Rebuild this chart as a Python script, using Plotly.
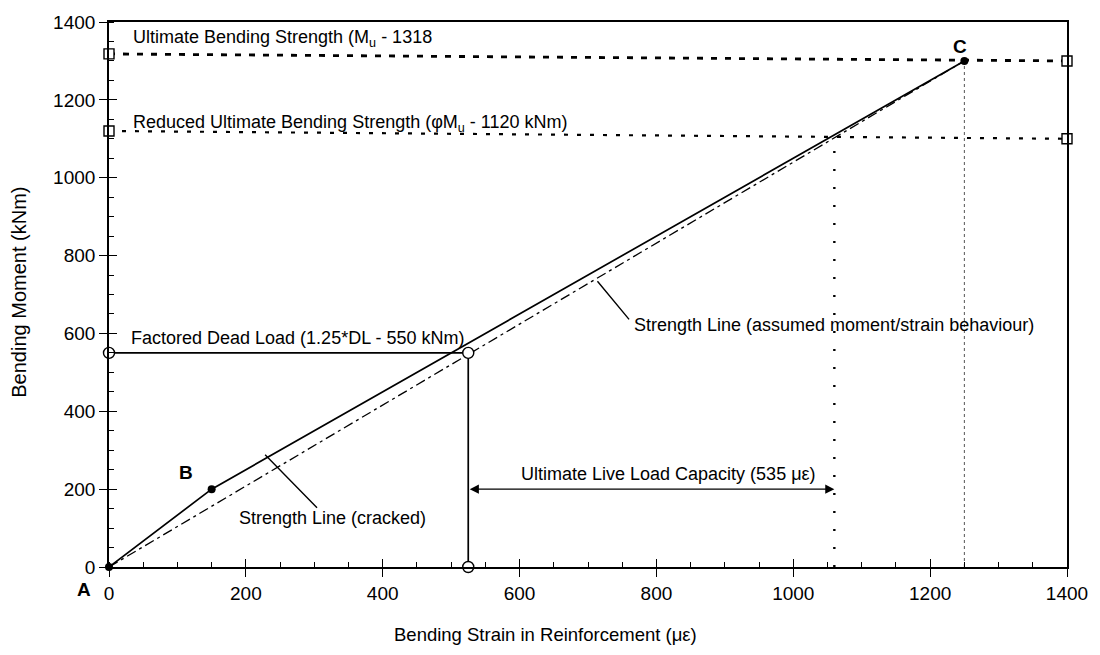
import plotly.graph_objects as go

# Strength line (cracked): A -> B -> C
strain_cracked = [0, 150, 1250]
moment_cracked = [0, 200, 1300]

# Strength line (assumed moment/strain behaviour): A -> C
strain_assumed = [0, 1250]
moment_assumed = [0, 1300]

# Bending strength levels read on the left and right axes
strain_limits = [0, 1400]
moment_ultimate = [1318, 1300]
moment_reduced = [1120, 1100]

# Factored dead load
dead_load_strain = [0, 525, 525]
dead_load_moment = [550, 550, 0]

# Ultimate live load capacity (535 microstrain beyond the dead load strain)
capacity_strain = [1060, 1060]
capacity_moment = [0, 1105]
capacity_arrow_strain = [525, 1060]
capacity_arrow_moment = 200

# Strain at the ultimate point C
ultimate_strain = [1250, 1250]
ultimate_moment = [0, 1300]

x_ticks = [0, 200, 400, 600, 800, 1000, 1200, 1400]
y_ticks = [0, 200, 400, 600, 800, 1000, 1200, 1400]

FONT = "Liberation Sans, Arial, sans-serif"
BLACK = "#000000"

fig = go.Figure()

# Ultimate bending strength level
fig.add_trace(go.Scatter(
    x=strain_limits, y=moment_ultimate, mode="lines+markers",
    line=dict(color=BLACK, width=2.8, dash="6px,8px"),
    marker=dict(symbol="square", size=10, color="white", line=dict(color=BLACK, width=1.4)),
    cliponaxis=False, hoverinfo="skip"))

# Reduced ultimate bending strength level
fig.add_trace(go.Scatter(
    x=strain_limits, y=moment_reduced, mode="lines+markers",
    line=dict(color=BLACK, width=2.2, dash="4px,9px"),
    marker=dict(symbol="square", size=10, color="white", line=dict(color=BLACK, width=1.4)),
    cliponaxis=False, hoverinfo="skip"))

# Vertical at ultimate strain (C)
fig.add_trace(go.Scatter(
    x=ultimate_strain, y=ultimate_moment, mode="lines",
    line=dict(color="#555555", width=1, dash="dot"),
    cliponaxis=False, hoverinfo="skip"))

# Vertical at the live load capacity limit
fig.add_trace(go.Scatter(
    x=capacity_strain, y=capacity_moment, mode="lines",
    line=dict(color=BLACK, width=2.4, dash="2px,16px"),
    cliponaxis=False, hoverinfo="skip"))

# Assumed moment/strain behaviour
fig.add_trace(go.Scatter(
    x=strain_assumed, y=moment_assumed, mode="lines",
    line=dict(color=BLACK, width=1.3, dash="10px,4px,3px,4px"),
    cliponaxis=False, hoverinfo="skip"))

# Cracked strength line with A, B, C points
fig.add_trace(go.Scatter(
    x=strain_cracked, y=moment_cracked, mode="lines+markers",
    line=dict(color=BLACK, width=1.7),
    marker=dict(symbol="circle", size=8, color=BLACK),
    cliponaxis=False, hoverinfo="skip"))

# Factored dead load
fig.add_trace(go.Scatter(
    x=dead_load_strain, y=dead_load_moment, mode="lines+markers",
    line=dict(color=BLACK, width=1.7),
    marker=dict(symbol="circle", size=11, color="white", line=dict(color=BLACK, width=1.4)),
    cliponaxis=False, hoverinfo="skip"))

# Overlay axes carrying the inner half of the major ticks
fig.add_trace(go.Scatter(x=strain_limits, y=[None, None], xaxis="x2", yaxis="y2",
                         mode="lines", hoverinfo="skip"))

axis_common = dict(
    range=[0, 1400], showgrid=False, zeroline=False,
    showline=True, linecolor=BLACK, linewidth=1.7, mirror=True,
    ticks="outside", ticklen=8, tickwidth=1.2, tickcolor=BLACK,
    tickfont=dict(family=FONT, size=19, color=BLACK),
    minor=dict(ticks="inside", ticklen=5, tickwidth=1, tickcolor=BLACK, dtick=50),
)
overlay_common = dict(
    range=[0, 1400], showgrid=False, zeroline=False, showline=False,
    ticks="inside", ticklen=8, tickwidth=1.2, tickcolor=BLACK,
    showticklabels=False,
)

annotations = [
    dict(x=32, y=1358, text="Ultimate Bending Strength (M<sub>u</sub> - 1318",
         xanchor="left", yanchor="middle"),
    dict(x=32, y=1140, text="Reduced Ultimate Bending Strength (φM<sub>u</sub> - 1120 kNm)",
         xanchor="left", yanchor="middle"),
    dict(x=29, y=587, text="Factored Dead Load (1.25*DL - 550 kNm)",
         xanchor="left", yanchor="middle"),
    dict(x=765, y=622, text="Strength Line (assumed moment/strain behaviour)",
         xanchor="left", yanchor="middle"),
    dict(x=327, y=125, text="Strength Line (cracked)",
         xanchor="center", yanchor="middle"),
    dict(x=818, y=238, text="Ultimate Live Load Capacity (535 με)",
         xanchor="center", yanchor="middle"),
    dict(x=113, y=242, text="<b>B</b>", xanchor="center", yanchor="middle"),
    dict(x=1243, y=1338, text="<b>C</b>", xanchor="center", yanchor="middle"),
]
for a in annotations:
    a.update(xref="x", yref="y", showarrow=False,
             font=dict(family=FONT, size=18, color=BLACK))
    if a["text"].startswith("<b>"):
        a["font"]["size"] = 19

# Origin label sits outside the plotting area
annotations.append(dict(
    x=-0.026, y=-0.042, xref="paper", yref="paper", text="<b>A</b>", showarrow=False,
    xanchor="center", yanchor="middle", font=dict(family=FONT, size=19, color=BLACK)))

# Leader lines for the two strength line labels
leaders = [
    dict(x=760, y=636, ax=712, ay=738),
    dict(x=304, y=152, ax=226, ay=292),
]
for l in leaders:
    annotations.append(dict(
        x=l["x"], y=l["y"], ax=l["ax"], ay=l["ay"], xref="x", yref="y",
        axref="x", ayref="y", showarrow=True, arrowhead=0, arrowwidth=1.4,
        arrowcolor=BLACK, text="", standoff=0, startstandoff=0))

# Double-headed arrow spanning the live load capacity
annotations.append(dict(
    x=capacity_arrow_strain[1], y=capacity_arrow_moment,
    ax=capacity_arrow_strain[0], ay=capacity_arrow_moment,
    xref="x", yref="y", axref="x", ayref="y", text="",
    showarrow=True, arrowside="end+start", arrowhead=2, startarrowhead=2,
    arrowsize=1.3, startarrowsize=1.3, arrowwidth=1.4, arrowcolor=BLACK,
    standoff=0, startstandoff=0))

# Axis titles
annotations.append(dict(
    x=-0.094, y=0.505, xref="paper", yref="paper", text="Bending Moment (kNm)",
    textangle=-90, showarrow=False, xanchor="center", yanchor="middle",
    font=dict(family=FONT, size=20, color=BLACK)))
annotations.append(dict(
    x=0.456, y=-0.124, xref="paper", yref="paper",
    text="Bending Strain in Reinforcement (με)",
    showarrow=False, xanchor="center", yanchor="middle",
    font=dict(family=FONT, size=18.5, color=BLACK)))

fig.update_layout(
    width=1100, height=655,
    margin=dict(l=109, r=24, t=18, b=88),
    paper_bgcolor="white", plot_bgcolor="white",
    showlegend=False,
    xaxis=dict(tickmode="array", tickvals=x_ticks, **axis_common),
    yaxis=dict(tickmode="array", tickvals=y_ticks, **axis_common),
    xaxis2=dict(overlaying="x", anchor="y", side="bottom",
                tickmode="array", tickvals=x_ticks, **overlay_common),
    yaxis2=dict(overlaying="y", anchor="x", side="left",
                tickmode="array", tickvals=y_ticks, **overlay_common),
    annotations=annotations,
    font=dict(family=FONT, color=BLACK),
)

fig.write_html("out.html")
